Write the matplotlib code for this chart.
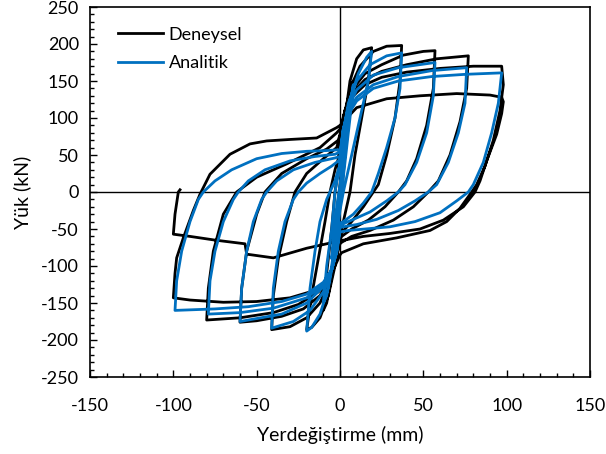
import matplotlib
matplotlib.use("Agg")
import matplotlib.pyplot as plt
from matplotlib.ticker import MultipleLocator

plt.rcParams['font.family'] = ['Lato', 'DejaVu Sans']

den_small_x = [0, 2, 4, 3, 1, -1, -3, -5, -4, -2, 0, 3, 6, 8, 6, 3, 1, -2, -5, -8, -10, -8, -5, -3, -1]
den_small_y = [0, 50, 100, 70, 20, -30, -80, -110, -80, -30, 10, 80, 130, 150, 110, 50, 0, -60, -115, -150, -160, -110, -50, 0, 30]

den_c20_x = [0, 3, 6, 10, 14, 19, 17, 13, 9, 6, 3, 1, 0, -3, -7, -12, -17, -20, -17, -13, -9, -6, -3, -1]
den_c20_y = [45, 100, 150, 180, 192, 195, 150, 100, 50, 0, -30, -50, -55, -100, -140, -170, -183, -186, -140, -90, -40, 0, 30, 45]

den_c40_x = [0, 3, 7, 12, 20, 28, 37, 36, 33, 28, 23, 20, 14, 7, 1, 0, -3, -7, -12, -20, -30, -41, -40, -37, -32, -27, -20, -10, -2]
den_c40_y = [70, 110, 145, 170, 190, 197, 198, 150, 100, 50, 10, 0, -20, -40, -55, -60, -95, -125, -150, -170, -182, -186, -140, -90, -40, 0, 25, 45, 60]

den_c60_x = [0, 3, 8, 15, 25, 38, 50, 57, 56, 52, 46, 40, 35, 27, 17, 7, 1, 0, -3, -7, -12, -22, -35, -50, -60, -59, -56, -50, -45, -35, -20, -8, -1]
den_c60_y = [75, 110, 140, 160, 172, 185, 190, 191, 140, 90, 45, 15, 0, -20, -38, -50, -60, -65, -95, -120, -140, -158, -168, -174, -176, -130, -80, -30, 0, 25, 45, 58, 70]

den_c80_x = [0, 3, 8, 15, 25, 40, 58, 77, 76, 72, 66, 59, 53, 44, 32, 18, 7, 1, 0, -3, -7, -13, -25, -40, -60, -80, -79, -76, -70, -62, -50, -32, -12, -2]
den_c80_y = [78, 110, 135, 152, 163, 172, 180, 184, 140, 95, 50, 15, 0, -20, -38, -52, -60, -68, -70, -95, -118, -135, -152, -163, -170, -173, -130, -80, -30, 0, 20, 38, 60, 80]

den_c100a_x = [0, 3, 8, 15, 25, 40, 60, 80, 97, 98, 96, 92, 87, 82, 79, 72, 64, 54, 34, 14, 1, 0, -3, -8, -15, -30, -50, -70, -90, -100,
               -99, -98, -94, -88, -84, -78, -66, -54, -44, -30, -14, -2]
den_c100a_y = [85, 110, 130, 145, 155, 162, 167, 170, 170, 145, 110, 70, 35, 10, 0, -22, -40, -52, -62, -70, -82, -85, -100, -120, -133, -143, -148, -149, -146, -143,
               -110, -89, -62, -25, -3, 24, 51, 65, 69, 71, 73, 87]

den_c100b_x = [0, 10, 28, 48, 70, 90, 97, 98, 97, 94, 88, 84, 81, 74, 62, 48, 30, 14, 0, -20, -40, -56, -57, -75, -90, -100, -99, -97, -96]
den_c100b_y = [90, 114, 126, 130, 133, 131, 128, 122, 106, 78, 42, 15, 0, -20, -38, -50, -56, -60, -66, -76, -89, -84, -70, -65, -60, -57, -30, 0, 3]

# ---------------- Analytical (Analitik) ----------------
ana_small_x = [0, 2, 4, 3, 1, -1, -3, -5, -4, -2, 0, 3, 6, 8, 6, 3, 1, -2, -5, -8, -10, -8, -5, -3, -1]
ana_small_y = [0, 40, 80, 50, 10, -20, -60, -90, -60, -20, 10, 70, 120, 145, 100, 40, 0, -50, -100, -140, -150, -100, -50, 0, 25]

ana_c20_x = [2, 6, 11, 16, 19, 17, 13, 9, 5, 2, 0, -3, -7, -12, -17, -20, -18, -15, -12, -8, -6, -3, -1]
ana_c20_y = [70, 125, 160, 182, 190, 150, 110, 70, 30, 0, -25, -80, -130, -165, -183, -188, -130, -80, -40, -10, 0, 15, 30]

ana_c40_x = [0, 2, 5, 10, 18, 28, 37, 36, 33, 28, 23, 19, 14, 8, 2, 0, -2, -5, -10, -18, -28, -41, -40, -37, -33, -28, -25, -20, -12, -5, -1]
ana_c40_y = [35, 80, 120, 150, 172, 184, 188, 140, 100, 60, 25, 0, -15, -30, -40, -42, -75, -105, -135, -160, -175, -184, -130, -80, -40, -10, 0, 12, 25, 35, 42]

ana_c60_x = [0, 2, 5, 10, 20, 35, 57, 56, 52, 46, 39, 35, 28, 18, 8, 2, 0, -2, -5, -10, -20, -35, -60, -59, -56, -52, -47, -44, -38, -28, -15, -3]
ana_c60_y = [45, 85, 115, 138, 158, 168, 175, 130, 80, 40, 10, 0, -12, -27, -37, -43, -45, -80, -105, -128, -150, -165, -175, -130, -80, -40, -10, 0, 15, 30, 40, 46]

ana_c80_x = [0, 2, 5, 10, 20, 35, 55, 76, 75, 71, 65, 58, 53, 45, 35, 22, 10, 2, 0, -2, -5, -10, -20, -40, -60, -79, -78, -75, -70, -64, -61, -55, -45, -30, -15, -3]
ana_c80_y = [48, 85, 110, 128, 145, 156, 164, 168, 120, 80, 40, 10, 0, -12, -25, -37, -44, -47, -48, -80, -105, -125, -143, -157, -163, -165, -120, -80, -40, -10, 0, 15, 30, 42, 48, 51]

ana_c100_x = [0, 2, 5, 10, 20, 35, 55, 75, 97, 95, 91, 86, 80, 77, 70, 60, 45, 30, 15, 5, 0, -2, -5, -10, -20, -35, -55, -75, -99,
              -98, -95, -90, -85, -82, -75, -65, -50, -35, -20, -8, -1]
ana_c100_y = [54, 85, 105, 123, 140, 150, 156, 159, 161, 120, 80, 40, 10, 0, -12, -28, -40, -47, -50, -52, -54, -82, -105, -122, -138, -148, -155, -158, -160,
              -120, -80, -40, -10, 0, 15, 30, 45, 52, 55, 56, 57]

x_ticks = [-150, -100, -50, 0, 50, 100, 150]
y_ticks = [-250, -200, -150, -100, -50, 0, 50, 100, 150, 200, 250]

den_x = den_small_x + den_c20_x + den_c40_x + den_c60_x + den_c80_x + den_c100a_x + den_c100b_x
den_y = den_small_y + den_c20_y + den_c40_y + den_c60_y + den_c80_y + den_c100a_y + den_c100b_y
ana_x = ana_small_x + ana_c20_x + ana_c40_x + ana_c60_x + ana_c80_x + ana_c100_x
ana_y = ana_small_y + ana_c20_y + ana_c40_y + ana_c60_y + ana_c80_y + ana_c100_y

fig = plt.figure(figsize=(6.06, 4.54), dpi=100)
ax = fig.add_axes([90/606, 1-377/454, 500/606, 370/454])

ax.axhline(0, color='black', lw=1.0, zorder=1)
ax.axvline(0, color='black', lw=1.0, zorder=1)

ax.plot(den_x, den_y, color='black', lw=2.0, solid_joinstyle='round', label='Deneysel', zorder=2)
ax.plot(ana_x, ana_y, color='#0070C0', lw=2.0, solid_joinstyle='round', label='Analitik', zorder=3)

ax.set_xlim(-150, 150)
ax.set_ylim(-250, 250)
ax.set_xticks(x_ticks)
ax.set_yticks(y_ticks)
ax.set_xticklabels([str(v) for v in x_ticks])
ax.set_yticklabels([str(v) for v in y_ticks])
ax.xaxis.set_minor_locator(MultipleLocator(10))
ax.yaxis.set_minor_locator(MultipleLocator(10))
ax.tick_params(axis='both', which='major', direction='in', length=5, width=1.0, labelsize=13, colors='black')
ax.tick_params(axis='both', which='minor', direction='in', length=3, width=1.0)
ax.tick_params(axis='x', which='major', pad=15)
ax.tick_params(axis='y', which='major', pad=8)
ax.tick_params(axis='x', which='both', top=False)
ax.tick_params(axis='y', which='both', right=False)
for s in ax.spines.values():
    s.set_linewidth(1.2)
    s.set_color('black')

ax.set_xlabel('Yerdeğiştirme (mm)', fontsize=14, labelpad=9)
ax.set_ylabel('Yük (kN)', fontsize=14, labelpad=7)

leg = ax.legend(loc='upper left', bbox_to_anchor=(0.056, 0.947), frameon=False, fontsize=13,
                handlelength=2.5, handletextpad=0.3, labelspacing=0.68, borderpad=0, borderaxespad=0)

fig.savefig('out.png', dpi=100)
